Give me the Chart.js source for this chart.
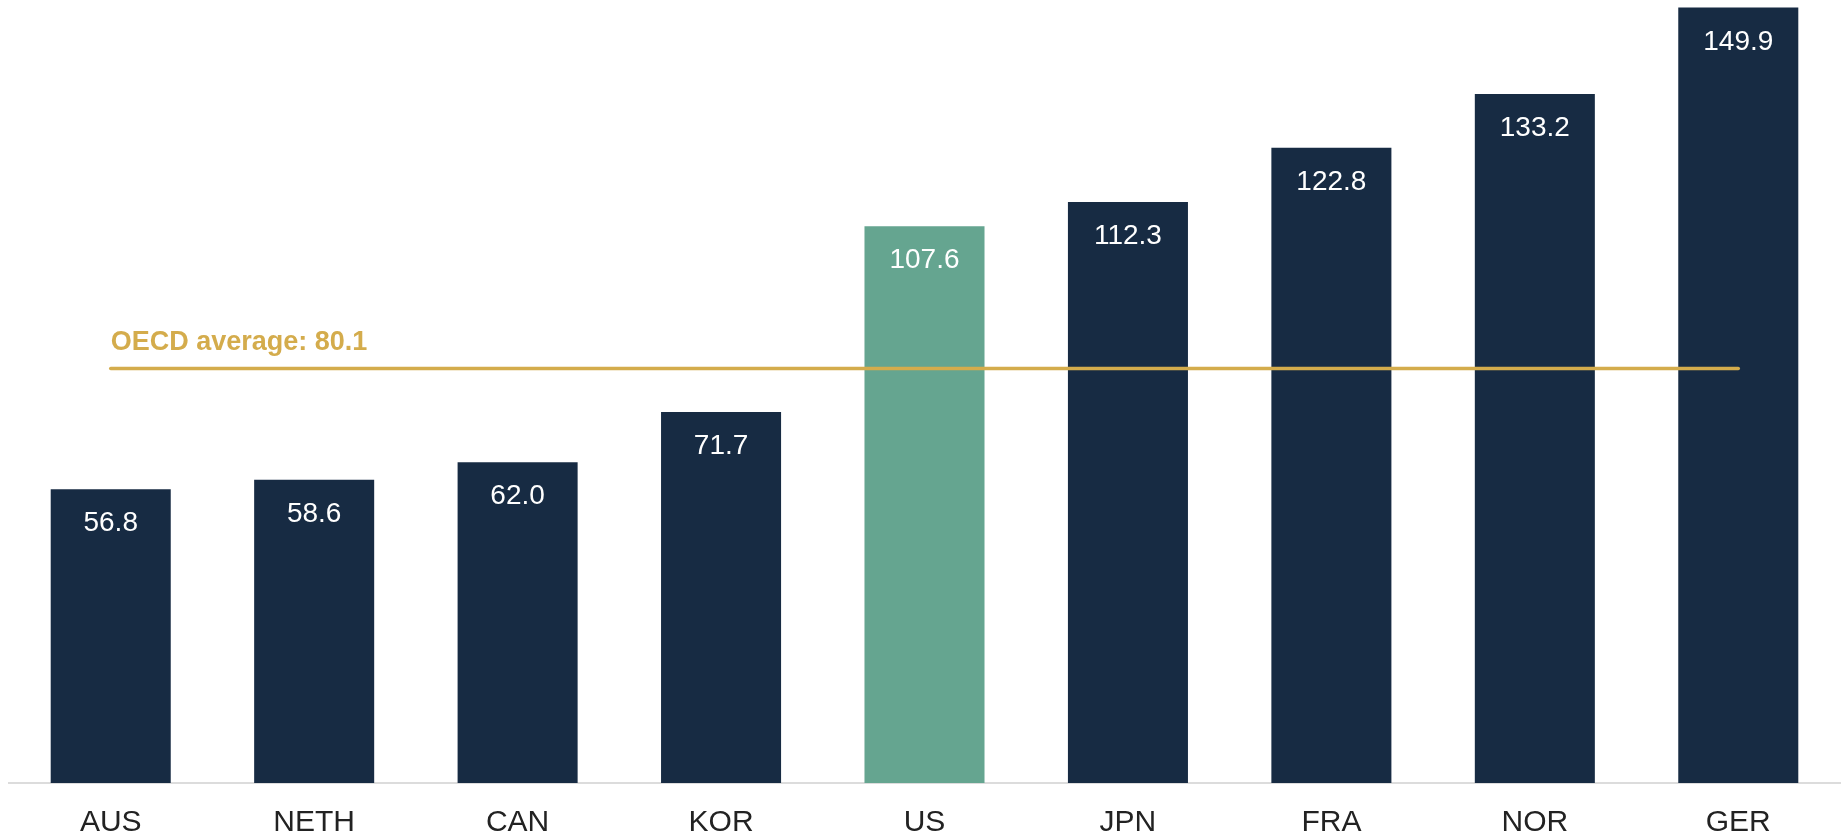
<!DOCTYPE html>
<html>
<head>
<meta charset="utf-8">
<script src="https://cdn.jsdelivr.net/npm/chart.js@4/dist/chart.umd.min.js"></script>
<style>
  html, body { margin: 0; padding: 0; background: #fff; }
  #chart { display: block; }
</style>
</head>
<body>
<canvas id="chart" width="1843" height="836"></canvas>
<script>
var countries = ['AUS', 'NETH', 'CAN', 'KOR', 'US', 'JPN', 'FRA', 'NOR', 'GER'];
var values    = [56.8, 58.6, 62.0, 71.7, 107.6, 112.3, 122.8, 133.2, 149.9];
var oecdAvg   = 80.1;
var oecdLabel = 'OECD average: 80.1';

var NAVY = '#172b43';
var TEAL = '#65a590';
var GOLD = '#d4ac4c';
var FONT = '"Liberation Sans", Arial, sans-serif';

var barColors = countries.map(function (c) { return c === 'US' ? TEAL : NAVY; });
var avgLine   = countries.map(function () { return oecdAvg; });

// value labels inside bars + the average caption
var labelPlugin = {
  id: 'labels',
  afterDatasetsDraw: function (chart) {
    var ctx = chart.ctx;
    var bars = chart.getDatasetMeta(1).data;
    ctx.save();
    ctx.fillStyle = '#ffffff';
    ctx.font = '28px ' + FONT;
    ctx.textAlign = 'center';
    ctx.textBaseline = 'alphabetic';
    for (var i = 0; i < bars.length; i++) {
      ctx.fillText(values[i].toFixed(1), bars[i].x, bars[i].y + 42);
    }
    var pts = chart.getDatasetMeta(0).data;
    ctx.fillStyle = GOLD;
    ctx.font = 'bold 27px ' + FONT;
    ctx.textAlign = 'left';
    ctx.fillText(oecdLabel, pts[0].x, pts[0].y - 19);
    ctx.restore();
  }
};

new Chart(document.getElementById('chart').getContext('2d'), {
  data: {
    labels: countries,
    datasets: [
      {
        type: 'line',
        data: avgLine,
        borderColor: GOLD,
        borderWidth: 3.5,
        borderCapStyle: 'round',
        pointRadius: 0,
        order: 0
      },
      {
        type: 'bar',
        data: values,
        backgroundColor: barColors,
        categoryPercentage: 1,
        barPercentage: 0.59,
        order: 1
      }
    ]
  },
  options: {
    responsive: false,
    animation: false,
    layout: { padding: { left: 9, right: 3, top: 7, bottom: -27 } },
    plugins: { legend: { display: false }, tooltip: { enabled: false } },
    scales: {
      x: {
        grid: { display: false, drawTicks: false },
        border: { display: true, color: '#dcdcdc', width: 2 },
        ticks: { color: '#222222', font: { family: FONT, size: 30 }, padding: 22 }
      },
      y: {
        display: false,
        min: 0,
        max: 150
      }
    }
  },
  plugins: [labelPlugin]
});
</script>
</body>
</html>
